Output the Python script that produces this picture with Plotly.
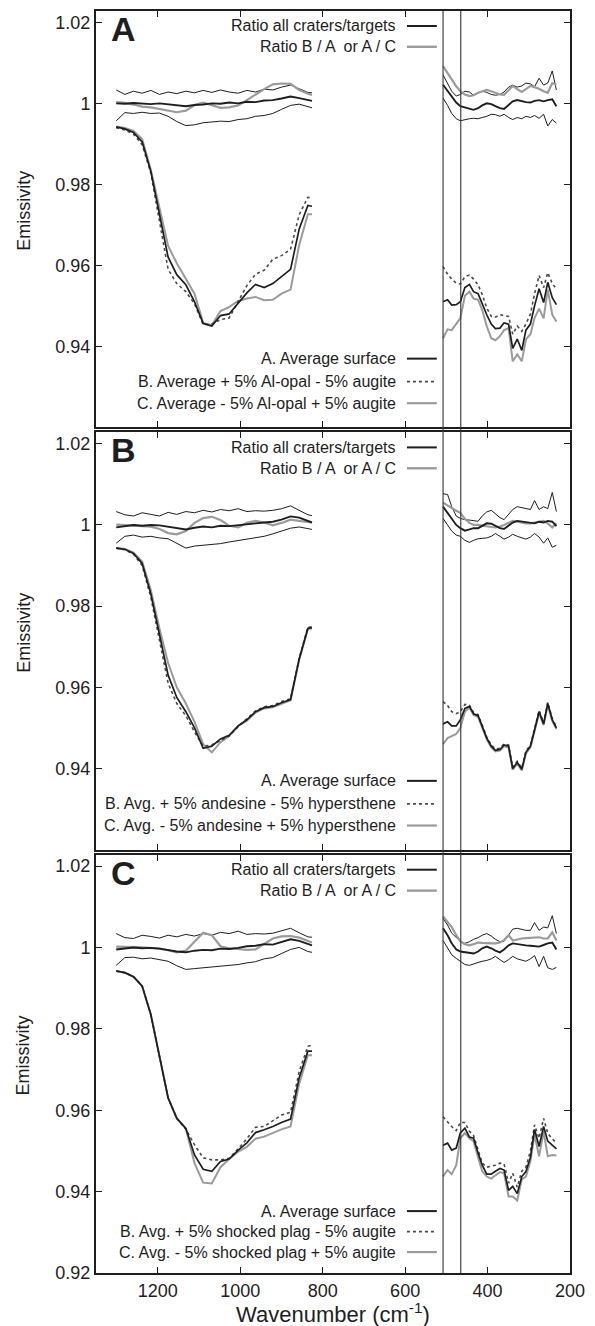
import plotly.graph_objects as go

# ---------------- wavenumber grids (cm-1) ----------------
WN_L = [1301,1280,1259,1238,1217,1196,1175,1154,1132,1111,1090,1069,1048,1027,1005,984,963,942,921,900,878,857,836,826]
WN_R = [508,497,487,476,466,455,444,434,423,413,402,391,381,370,360,349,339,328,317,307,296,286,275,264,254,243,233]
BAND_EDGES = [508, 465]
X_TICKS = [1200, 1000, 800, 600, 400, 200]

# ---------------- Panel A ----------------
A_avg_L   = [0.9942,0.9937,0.9928,0.9905,0.9832,0.9726,0.9620,0.9577,0.9552,0.9510,0.9456,0.9450,0.9476,0.9480,0.9508,0.9532,0.9553,0.9545,0.9555,0.9572,0.9590,0.9690,0.9748,0.9746]
A_plus_L  = [0.9940,0.9934,0.9924,0.9898,0.9828,0.9705,0.9590,0.9555,0.9535,0.9505,0.9454,0.9455,0.9466,0.9470,0.9510,0.9550,0.9578,0.9588,0.9615,0.9624,0.9640,0.9725,0.9768,0.9766]
A_minus_L = [0.9943,0.9939,0.9932,0.9912,0.9836,0.9740,0.9648,0.9605,0.9568,0.9530,0.9458,0.9452,0.9487,0.9497,0.9512,0.9518,0.9522,0.9514,0.9515,0.9530,0.9540,0.9650,0.9726,0.9726]
A_avg_R   = [0.9510,0.9515,0.9502,0.9503,0.9510,0.9545,0.9553,0.9535,0.9530,0.9505,0.9478,0.9455,0.9444,0.9445,0.9458,0.9455,0.9395,0.9418,0.9390,0.9440,0.9455,0.9500,0.9542,0.9508,0.9558,0.9520,0.9503]
A_plus_R  = [0.9597,0.9578,0.9566,0.9556,0.9554,0.9572,0.9576,0.9566,0.9552,0.9528,0.9495,0.9474,0.9472,0.9478,0.9476,0.9474,0.9430,0.9450,0.9437,0.9455,0.9480,0.9530,0.9575,0.9545,0.9582,0.9555,0.9542]
A_minus_R = [0.9420,0.9442,0.9440,0.9455,0.9470,0.9525,0.9535,0.9518,0.9515,0.9490,0.9450,0.9420,0.9415,0.9425,0.9440,0.9445,0.9363,0.9380,0.9363,0.9417,0.9430,0.9470,0.9493,0.9469,0.9540,0.9478,0.9461]
A_rmean_L = [1.0000,0.9999,1.0001,1.0000,0.9998,1.0000,0.9998,0.9995,0.9993,0.9996,0.9997,1.0000,0.9999,1.0002,1.0000,1.0004,1.0003,1.0007,1.0008,1.0012,1.0017,1.0013,1.0009,1.0006]
A_rup_L   = [1.0033,1.0022,1.0030,1.0025,1.0032,1.0022,1.0028,1.0024,1.0030,1.0026,1.0032,1.0027,1.0033,1.0028,1.0025,1.0032,1.0028,1.0035,1.0033,1.0040,1.0045,1.0036,1.0027,1.0026]
A_rlo_L   = [0.9957,0.9977,0.9975,0.9978,0.9975,0.9976,0.9968,0.9955,0.9945,0.9947,0.9952,0.9954,0.9956,0.9955,0.9960,0.9962,0.9968,0.9970,0.9975,0.9985,0.9995,0.9998,0.9992,0.9989]
A_rgray_L = [1.0003,1.0001,0.9997,0.9992,0.9990,0.9986,0.9983,0.9978,0.9982,0.9996,1.0002,0.9995,0.9989,0.9990,0.9995,1.0008,1.0022,1.0035,1.0047,1.0049,1.0048,1.0033,1.0024,1.0021]
A_rmean_R = [1.0046,1.0030,1.0015,1.0002,0.9993,0.9990,0.9986,0.9984,0.9988,0.9995,1.0000,0.9998,0.9993,0.9988,0.9986,0.9995,1.0005,1.0008,1.0005,1.0003,1.0002,1.0006,1.0008,1.0005,1.0008,1.0010,0.9993]
A_rup_R   = [1.0070,1.0050,1.0030,1.0018,1.0022,1.0030,1.0028,1.0020,1.0026,1.0030,1.0027,1.0022,1.0020,1.0022,1.0028,1.0040,1.0045,1.0040,1.0043,1.0050,1.0048,1.0041,1.0062,1.0045,1.0050,1.0080,1.0033]
A_rlo_R   = [1.0013,0.9995,0.9975,0.9962,0.9957,0.9960,0.9962,0.9963,0.9962,0.9965,0.9968,0.9973,0.9972,0.9968,0.9973,0.9965,0.9960,0.9965,0.9962,0.9968,0.9965,0.9970,0.9963,0.9973,0.9944,0.9960,0.9951]
A_rgray_R = [1.0092,1.0075,1.0058,1.0042,1.0030,1.0022,1.0018,1.0020,1.0026,1.0030,1.0033,1.0030,1.0027,1.0022,1.0021,1.0032,1.0043,1.0035,1.0028,1.0035,1.0043,1.0040,1.0036,1.0030,1.0026,1.0050,1.0046]

# ---------------- Panel B ----------------
B_avg_L   = [0.9943,0.9940,0.9930,0.9905,0.9830,0.9730,0.9630,0.9575,0.9540,0.9500,0.9450,0.9455,0.9473,0.9482,0.9505,0.9520,0.9540,0.9550,0.9553,0.9562,0.9570,0.9670,0.9745,0.9747]
B_plus_L  = [0.9943,0.9939,0.9928,0.9900,0.9822,0.9715,0.9610,0.9560,0.9530,0.9490,0.9455,0.9458,0.9470,0.9480,0.9503,0.9522,0.9542,0.9552,0.9555,0.9565,0.9572,0.9672,0.9748,0.9749]
B_minus_L = [0.9943,0.9941,0.9932,0.9910,0.9840,0.9745,0.9660,0.9600,0.9560,0.9515,0.9460,0.9440,0.9465,0.9480,0.9505,0.9518,0.9538,0.9548,0.9551,0.9560,0.9568,0.9668,0.9744,0.9745]
B_avg_R   = [0.9510,0.9515,0.9505,0.9505,0.9520,0.9548,0.9553,0.9535,0.9530,0.9505,0.9475,0.9455,0.9445,0.9447,0.9458,0.9455,0.9400,0.9415,0.9398,0.9440,0.9455,0.9495,0.9540,0.9510,0.9560,0.9520,0.9500]
B_plus_R  = [0.9565,0.9555,0.9540,0.9535,0.9540,0.9558,0.9556,0.9538,0.9533,0.9508,0.9478,0.9458,0.9448,0.9450,0.9461,0.9458,0.9403,0.9418,0.9401,0.9443,0.9458,0.9498,0.9543,0.9513,0.9563,0.9523,0.9503]
B_minus_R = [0.9460,0.9475,0.9480,0.9485,0.9500,0.9540,0.9550,0.9532,0.9527,0.9502,0.9472,0.9452,0.9442,0.9444,0.9455,0.9452,0.9397,0.9412,0.9395,0.9437,0.9452,0.9492,0.9537,0.9507,0.9557,0.9517,0.9497]
B_rmean_L = [0.9994,0.9997,1.0000,0.9998,1.0000,0.9999,0.9996,0.9992,0.9989,0.9993,0.9996,0.9994,0.9998,0.9997,1.0000,1.0002,1.0004,1.0006,1.0008,1.0013,1.0021,1.0018,1.0010,1.0006]
B_rup_L   = [1.0033,1.0025,1.0022,1.0030,1.0026,1.0022,1.0031,1.0026,1.0033,1.0030,1.0036,1.0032,1.0038,1.0035,1.0040,1.0033,1.0035,1.0034,1.0036,1.0040,1.0047,1.0035,1.0025,1.0023]
B_rlo_L   = [0.9955,0.9972,0.9975,0.9970,0.9972,0.9968,0.9966,0.9955,0.9943,0.9948,0.9950,0.9952,0.9954,0.9958,0.9962,0.9966,0.9970,0.9972,0.9978,0.9984,0.9992,0.9995,0.9990,0.9989]
B_rgray_L = [1.0001,1.0000,0.9999,0.9997,0.9996,0.9990,0.9980,0.9977,0.9985,1.0005,1.0017,1.0020,1.0012,0.9998,0.9994,1.0005,1.0010,1.0006,0.9999,1.0005,1.0013,1.0010,1.0007,1.0006]
B_rmean_R = [1.0045,1.0030,1.0016,1.0000,0.9992,0.9986,0.9989,0.9992,0.9992,0.9998,1.0004,1.0003,0.9998,0.9992,0.9990,0.9998,1.0006,1.0010,1.0008,1.0006,1.0005,1.0004,1.0008,1.0006,1.0010,1.0008,0.9997]
B_rup_R   = [1.0077,1.0075,1.0045,1.0022,1.0016,1.0013,1.0012,1.0010,1.0009,1.0022,1.0032,1.0036,1.0028,1.0018,1.0013,1.0025,1.0038,1.0045,1.0043,1.0040,1.0038,1.0060,1.0038,1.0045,1.0040,1.0080,1.0033]
B_rlo_R   = [1.0016,0.9998,0.9985,0.9975,0.9972,0.9962,0.9957,0.9962,0.9966,0.9967,0.9968,0.9972,0.9979,0.9972,0.9965,0.9970,0.9977,0.9972,0.9968,0.9965,0.9970,0.9979,0.9970,0.9955,0.9968,0.9945,0.9950]
B_rgray_R = [1.0055,1.0048,1.0040,1.0035,1.0030,1.0015,1.0005,1.0000,1.0000,0.9998,0.9997,0.9995,0.9994,0.9996,1.0000,1.0006,1.0010,1.0008,1.0005,1.0004,1.0004,1.0006,1.0008,1.0010,1.0004,0.9994,1.0004]

# ---------------- Panel C ----------------
C_avg_L   = [0.9942,0.9938,0.9928,0.9905,0.9835,0.9735,0.9630,0.9580,0.9555,0.9490,0.9455,0.9450,0.9474,0.9480,0.9502,0.9520,0.9545,0.9552,0.9560,0.9570,0.9578,0.9680,0.9745,0.9745]
C_plus_L  = [0.9942,0.9938,0.9928,0.9905,0.9835,0.9735,0.9630,0.9580,0.9553,0.9515,0.9483,0.9478,0.9478,0.9482,0.9505,0.9530,0.9558,0.9560,0.9575,0.9588,0.9595,0.9695,0.9757,0.9760]
C_minus_L = [0.9942,0.9938,0.9928,0.9905,0.9835,0.9735,0.9630,0.9580,0.9555,0.9470,0.9422,0.9420,0.9460,0.9480,0.9498,0.9510,0.9530,0.9535,0.9545,0.9553,0.9560,0.9665,0.9735,0.9735]
C_avg_R   = [0.9514,0.9519,0.9502,0.9507,0.9544,0.9556,0.9534,0.9531,0.9495,0.9465,0.9443,0.9443,0.9450,0.9457,0.9453,0.9403,0.9413,0.9395,0.9437,0.9449,0.9484,0.9553,0.9511,0.9560,0.9524,0.9515,0.9505]
C_plus_R  = [0.9584,0.9570,0.9560,0.9550,0.9570,0.9570,0.9548,0.9538,0.9502,0.9470,0.9460,0.9462,0.9465,0.9470,0.9468,0.9421,0.9445,0.9411,0.9450,0.9460,0.9500,0.9564,0.9531,0.9580,0.9543,0.9530,0.9519]
C_minus_R = [0.9437,0.9453,0.9443,0.9465,0.9531,0.9544,0.9531,0.9524,0.9484,0.9450,0.9437,0.9432,0.9440,0.9448,0.9445,0.9388,0.9388,0.9378,0.9430,0.9437,0.9475,0.9540,0.9487,0.9548,0.9487,0.9490,0.9489]
C_rmean_L = [0.9995,0.9998,1.0000,0.9998,0.9999,0.9997,0.9993,0.9990,0.9988,0.9992,0.9994,0.9993,0.9997,0.9996,0.9999,1.0003,1.0004,1.0008,1.0007,1.0014,1.0020,1.0016,1.0009,1.0005]
C_rup_L   = [1.0034,1.0024,1.0022,1.0030,1.0027,1.0023,1.0030,1.0026,1.0032,1.0028,1.0034,1.0030,1.0037,1.0034,1.0040,1.0032,1.0034,1.0033,1.0035,1.0040,1.0047,1.0036,1.0026,1.0025]
C_rlo_L   = [0.9956,0.9975,0.9976,0.9972,0.9974,0.9970,0.9966,0.9955,0.9946,0.9948,0.9950,0.9952,0.9953,0.9955,0.9958,0.9962,0.9965,0.9972,0.9975,0.9985,0.9995,1.0000,0.9990,0.9988]
C_rgray_L = [1.0002,1.0002,1.0001,1.0000,0.9999,0.9997,0.9993,0.9988,0.9992,1.0015,1.0036,1.0030,1.0003,0.9998,0.9996,0.9994,0.9995,1.0008,1.0022,1.0027,1.0028,1.0024,1.0016,1.0012]
C_rmean_R = [1.0047,1.0030,1.0010,0.9995,0.9990,0.9988,0.9986,0.9985,0.9990,0.9998,1.0002,0.9998,0.9992,0.9988,0.9995,1.0005,1.0010,1.0008,1.0005,1.0005,1.0004,1.0003,1.0002,1.0006,1.0010,1.0012,0.9995]
C_rup_R   = [1.0071,1.0055,1.0035,1.0025,1.0015,1.0010,1.0014,1.0020,1.0024,1.0030,1.0034,1.0028,1.0020,1.0014,1.0015,1.0030,1.0045,1.0047,1.0045,1.0042,1.0042,1.0061,1.0042,1.0050,1.0048,1.0078,1.0034]
C_rlo_R   = [1.0017,0.9998,0.9982,0.9973,0.9966,0.9958,0.9956,0.9960,0.9963,0.9966,0.9968,0.9972,0.9978,0.9970,0.9963,0.9970,0.9978,0.9972,0.9968,0.9966,0.9972,0.9980,0.9953,0.9978,0.9950,0.9946,0.9951]
C_rgray_R = [1.0076,1.0062,1.0050,1.0030,1.0015,1.0008,1.0005,1.0008,1.0012,1.0011,1.0010,1.0010,1.0010,1.0012,1.0018,1.0030,1.0017,1.0020,1.0022,1.0023,1.0024,1.0025,1.0025,1.0022,1.0022,1.0037,1.0017]

LETTERS = ["A", "B", "C"]
TOP_LEGEND = ["Ratio all craters/targets", "Ratio B / A  or A / C"]
BOTTOM_LEGEND = [
    ["A. Average surface", "B. Average + 5% Al-opal - 5% augite", "C. Average - 5% Al-opal + 5% augite"],
    ["A. Average surface", "B. Avg. + 5% andesine - 5% hypersthene", "C. Avg. - 5% andesine + 5% hypersthene"],
    ["A. Average surface", "B. Avg. + 5% shocked plag - 5% augite", "C. Avg. - 5% shocked plag + 5% augite"],
]

BLACK = "#1e1e1e"
GRAY = "#9b9b9b"
DOT = "#4a4a4a"
FONT = "Liberation Sans, Arial, Helvetica, sans-serif"

panels = [
    dict(avg=(A_avg_L, A_avg_R), plus=(A_plus_L, A_plus_R), minus=(A_minus_L, A_minus_R),
         rmean=(A_rmean_L, A_rmean_R), rup=(A_rup_L, A_rup_R), rlo=(A_rlo_L, A_rlo_R), rgray=(A_rgray_L, A_rgray_R)),
    dict(avg=(B_avg_L, B_avg_R), plus=(B_plus_L, B_plus_R), minus=(B_minus_L, B_minus_R),
         rmean=(B_rmean_L, B_rmean_R), rup=(B_rup_L, B_rup_R), rlo=(B_rlo_L, B_rlo_R), rgray=(B_rgray_L, B_rgray_R)),
    dict(avg=(C_avg_L, C_avg_R), plus=(C_plus_L, C_plus_R), minus=(C_minus_L, C_minus_R),
         rmean=(C_rmean_L, C_rmean_R), rup=(C_rup_L, C_rup_R), rlo=(C_rlo_L, C_rlo_R), rgray=(C_rgray_L, C_rgray_R)),
]

styles = {
    "rup":   dict(color=BLACK, width=1.0),
    "rlo":   dict(color=BLACK, width=1.0),
    "rgray": dict(color=GRAY, width=2.2),
    "rmean": dict(color=BLACK, width=1.9),
    "minus": dict(color=GRAY, width=2.0),
    "plus":  dict(color=DOT, width=1.6, dash="dot"),
    "avg":   dict(color=BLACK, width=1.7),
}
order = ["rup", "rlo", "rgray", "rmean", "minus", "plus", "avg"]

fig = go.Figure()
domains = [[0.6701, 1.0], [0.3354, 0.6661], [0.0, 0.3315]]

for i, p in enumerate(panels):
    xa = "x" if i == 0 else f"x{i+1}"
    ya = "y" if i == 0 else f"y{i+1}"
    for key in order:
        for wn, vals in ((WN_L, p[key][0]), (WN_R, p[key][1])):
            fig.add_trace(go.Scatter(x=wn, y=vals, mode="lines", line=styles[key],
                                     xaxis=xa, yaxis=ya, showlegend=False, hoverinfo="skip"))

layout_axes = {}
for i in range(3):
    xname = "xaxis" if i == 0 else f"xaxis{i+1}"
    yname = "yaxis" if i == 0 else f"yaxis{i+1}"
    ya = "y" if i == 0 else f"y{i+1}"
    layout_axes[xname] = dict(
        domain=[0, 1], anchor=ya, range=[1350, 200],
        tickmode="array", tickvals=X_TICKS, ticktext=[str(t) for t in X_TICKS],
        ticks="inside", ticklen=6, tickwidth=1.3, tickcolor=BLACK,
        showline=True, linecolor=BLACK, linewidth=2, mirror="ticks",
        showgrid=False, zeroline=False, showticklabels=(i == 2),
        tickfont=dict(family=FONT, size=18, color=BLACK),
    )
    if i < 2:
        layout_axes[xname]["matches"] = "x3"
    yt = [0.94, 0.96, 0.98, 1.0, 1.02] if i < 2 else [0.92, 0.94, 0.96, 0.98, 1.0, 1.02]
    layout_axes[yname] = dict(
        domain=domains[i], anchor="x" if i == 0 else f"x{i+1}",
        range=[0.92, 1.0228],
        tickmode="array", tickvals=yt, ticktext=[("1" if v == 1.0 else f"{v:g}") for v in yt],
        ticks="inside", ticklen=6, tickwidth=1.3, tickcolor=BLACK,
        showline=True, linecolor=BLACK, linewidth=2, mirror="ticks",
        showgrid=False, zeroline=False,
        tickfont=dict(family=FONT, size=18, color=BLACK),
    )

annotations = []
shapes = []
for i in range(3):
    xd = "x domain" if i == 0 else f"x{i+1} domain"
    yd = "y domain" if i == 0 else f"y{i+1} domain"
    annotations.append(dict(text=f"<b>{LETTERS[i]}</b>", xref=xd, yref=yd, x=0.028, y=0.957,
                            xanchor="left", yanchor="middle", showarrow=False,
                            font=dict(family=FONT, size=34, color=BLACK)))
    annotations.append(dict(text="Emissivity", xref="paper", yref=yd, x=-0.152, y=0.52,
                            xanchor="center", yanchor="middle", textangle=-90, showarrow=False,
                            font=dict(family=FONT, size=18, color=BLACK)))
    top_y = [0.964, 0.914]
    top_sty = [dict(color=BLACK, width=2), dict(color=GRAY, width=2.4)]
    for t, yy, st in zip(TOP_LEGEND, top_y, top_sty):
        annotations.append(dict(text=t, xref=xd, yref=yd, x=0.637, y=yy, xanchor="right",
                                yanchor="middle", showarrow=False,
                                font=dict(family=FONT, size=16, color=BLACK)))
        shapes.append(dict(type="line", xref=xd, yref=yd, x0=0.656, x1=0.719, y0=yy, y1=yy, line=st))
    bot_y = [0.165, 0.110, 0.058] if i < 2 else [0.148, 0.099, 0.050]
    bot_sty = [dict(color=BLACK, width=2), dict(color=DOT, width=1.8, dash="dot"), dict(color=GRAY, width=2.2)]
    for t, yy, st in zip(BOTTOM_LEGEND[i], bot_y, bot_sty):
        annotations.append(dict(text=t, xref=xd, yref=yd, x=0.637, y=yy, xanchor="right",
                                yanchor="middle", showarrow=False,
                                font=dict(family=FONT, size=16, color=BLACK)))
        shapes.append(dict(type="line", xref=xd, yref=yd, x0=0.656, x1=0.719, y0=yy, y1=yy, line=st))

for b in BAND_EDGES:
    shapes.append(dict(type="line", xref="x3", yref="paper", x0=b, x1=b, y0=0, y1=1,
                       line=dict(color="#333333", width=1.1)))

annotations.append(dict(text="Wavenumber (cm<sup>-1</sup>)", xref="paper", yref="paper",
                        x=0.5, y=-0.0316, xanchor="center", yanchor="middle", showarrow=False,
                        font=dict(family=FONT, size=22, color=BLACK)))

# the page body adds an 8 px margin, so the figure is sized to fit inside the window
fig.update_layout(
    width=587, height=1318,
    margin=dict(l=88, r=25, t=1, b=53),
    paper_bgcolor="white", plot_bgcolor="white",
    showlegend=False,
    annotations=annotations, shapes=shapes,
    **layout_axes,
)

fig.write_html("out.html")
